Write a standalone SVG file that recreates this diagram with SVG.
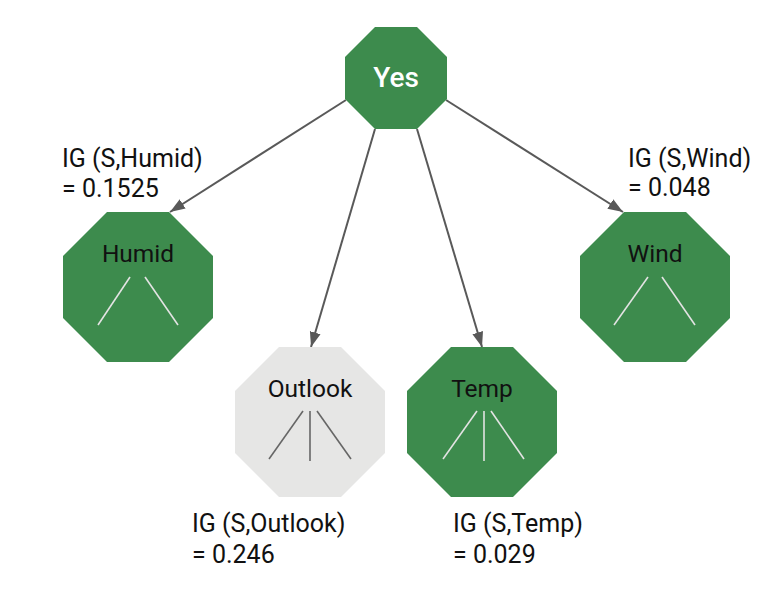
<svg xmlns="http://www.w3.org/2000/svg" width="772" height="590" viewBox="0 0 772 590">
<defs>
<marker id="arrow" markerUnits="userSpaceOnUse" markerWidth="16" markerHeight="12" refX="15" refY="6" orient="auto">
<path d="M0,0.5 L15,6 L0,11.5 z" fill="#595959"/>
</marker>
<style>
.green{fill:#3d8b4d}
.gray{fill:#e6e6e5}
.edge{stroke:#595959;stroke-width:2;fill:none}
.wl{stroke:#e3e3e3;stroke-width:1.6;fill:none}
.dl{stroke:#666666;stroke-width:1.6;fill:none}
.nt{font-family:Roboto,"Liberation Sans",sans-serif;font-size:24.5px;fill:#111;text-anchor:middle}
.lb{font-family:Roboto,"Liberation Sans",sans-serif;font-size:25px;fill:#111}
.yes{font-family:Roboto,"Liberation Sans",sans-serif;font-size:28px;font-weight:500;fill:#fff;text-anchor:middle}
</style>
</defs>
<rect width="772" height="590" fill="#fff"/>
<g id="connectors">
<line class="edge" x1="346" y1="100" x2="170" y2="212" marker-end="url(#arrow)"/>
<line class="edge" x1="375" y1="129" x2="311" y2="347" marker-end="url(#arrow)"/>
<line class="edge" x1="417" y1="129" x2="482" y2="347" marker-end="url(#arrow)"/>
<line class="edge" x1="446" y1="100" x2="623" y2="212" marker-end="url(#arrow)"/>
</g>
<g id="yes">
<polygon class="green" points="375,27 417,27 447,57 447,99 417,129 375,129 345,99 345,57"/>
<text class="yes" x="396" y="87">Yes</text>
</g>
<g id="humid">
<polygon class="green" points="107,212 169,212 213,256 213,318 169,362 107,362 63,318 63,256"/>
<text class="nt" x="138" y="262">Humid</text>
<line class="wl" x1="130" y1="277" x2="98" y2="325"/>
<line class="wl" x1="145" y1="277" x2="178" y2="325"/>
</g>
<g id="outlook">
<polygon class="gray" points="279,347 341,347 385,391 385,453 341,497 279,497 235,453 235,391"/>
<text class="nt" x="310" y="397">Outlook</text>
<line class="dl" x1="303" y1="411" x2="269" y2="459"/>
<line class="dl" x1="310" y1="411" x2="310" y2="461"/>
<line class="dl" x1="317" y1="411" x2="351" y2="459"/>
</g>
<g id="temp">
<polygon class="green" points="451,347 513,347 557,391 557,453 513,497 451,497 407,453 407,391"/>
<text class="nt" x="482" y="397">Temp</text>
<line class="wl" x1="477" y1="411" x2="443" y2="459"/>
<line class="wl" x1="484" y1="411" x2="484" y2="461"/>
<line class="wl" x1="491" y1="411" x2="524" y2="459"/>
</g>
<g id="wind">
<polygon class="green" points="624,212 686,212 730,256 730,318 686,362 624,362 580,318 580,256"/>
<text class="nt" x="655" y="262">Wind</text>
<line class="wl" x1="648" y1="277" x2="614" y2="325"/>
<line class="wl" x1="662" y1="277" x2="695" y2="325"/>
</g>
<g id="labels">
<text class="lb" x="62" y="167">IG (S,Humid)</text>
<text class="lb" x="62" y="197">= 0.1525</text>
<text class="lb" x="628" y="167">IG (S,Wind)</text>
<text class="lb" x="628" y="196">= 0.048</text>
<text class="lb" x="192" y="532">IG (S,Outlook)</text>
<text class="lb" x="192" y="563">= 0.246</text>
<text class="lb" x="453" y="532">IG (S,Temp)</text>
<text class="lb" x="453" y="563">= 0.029</text>
</g>
</svg>
